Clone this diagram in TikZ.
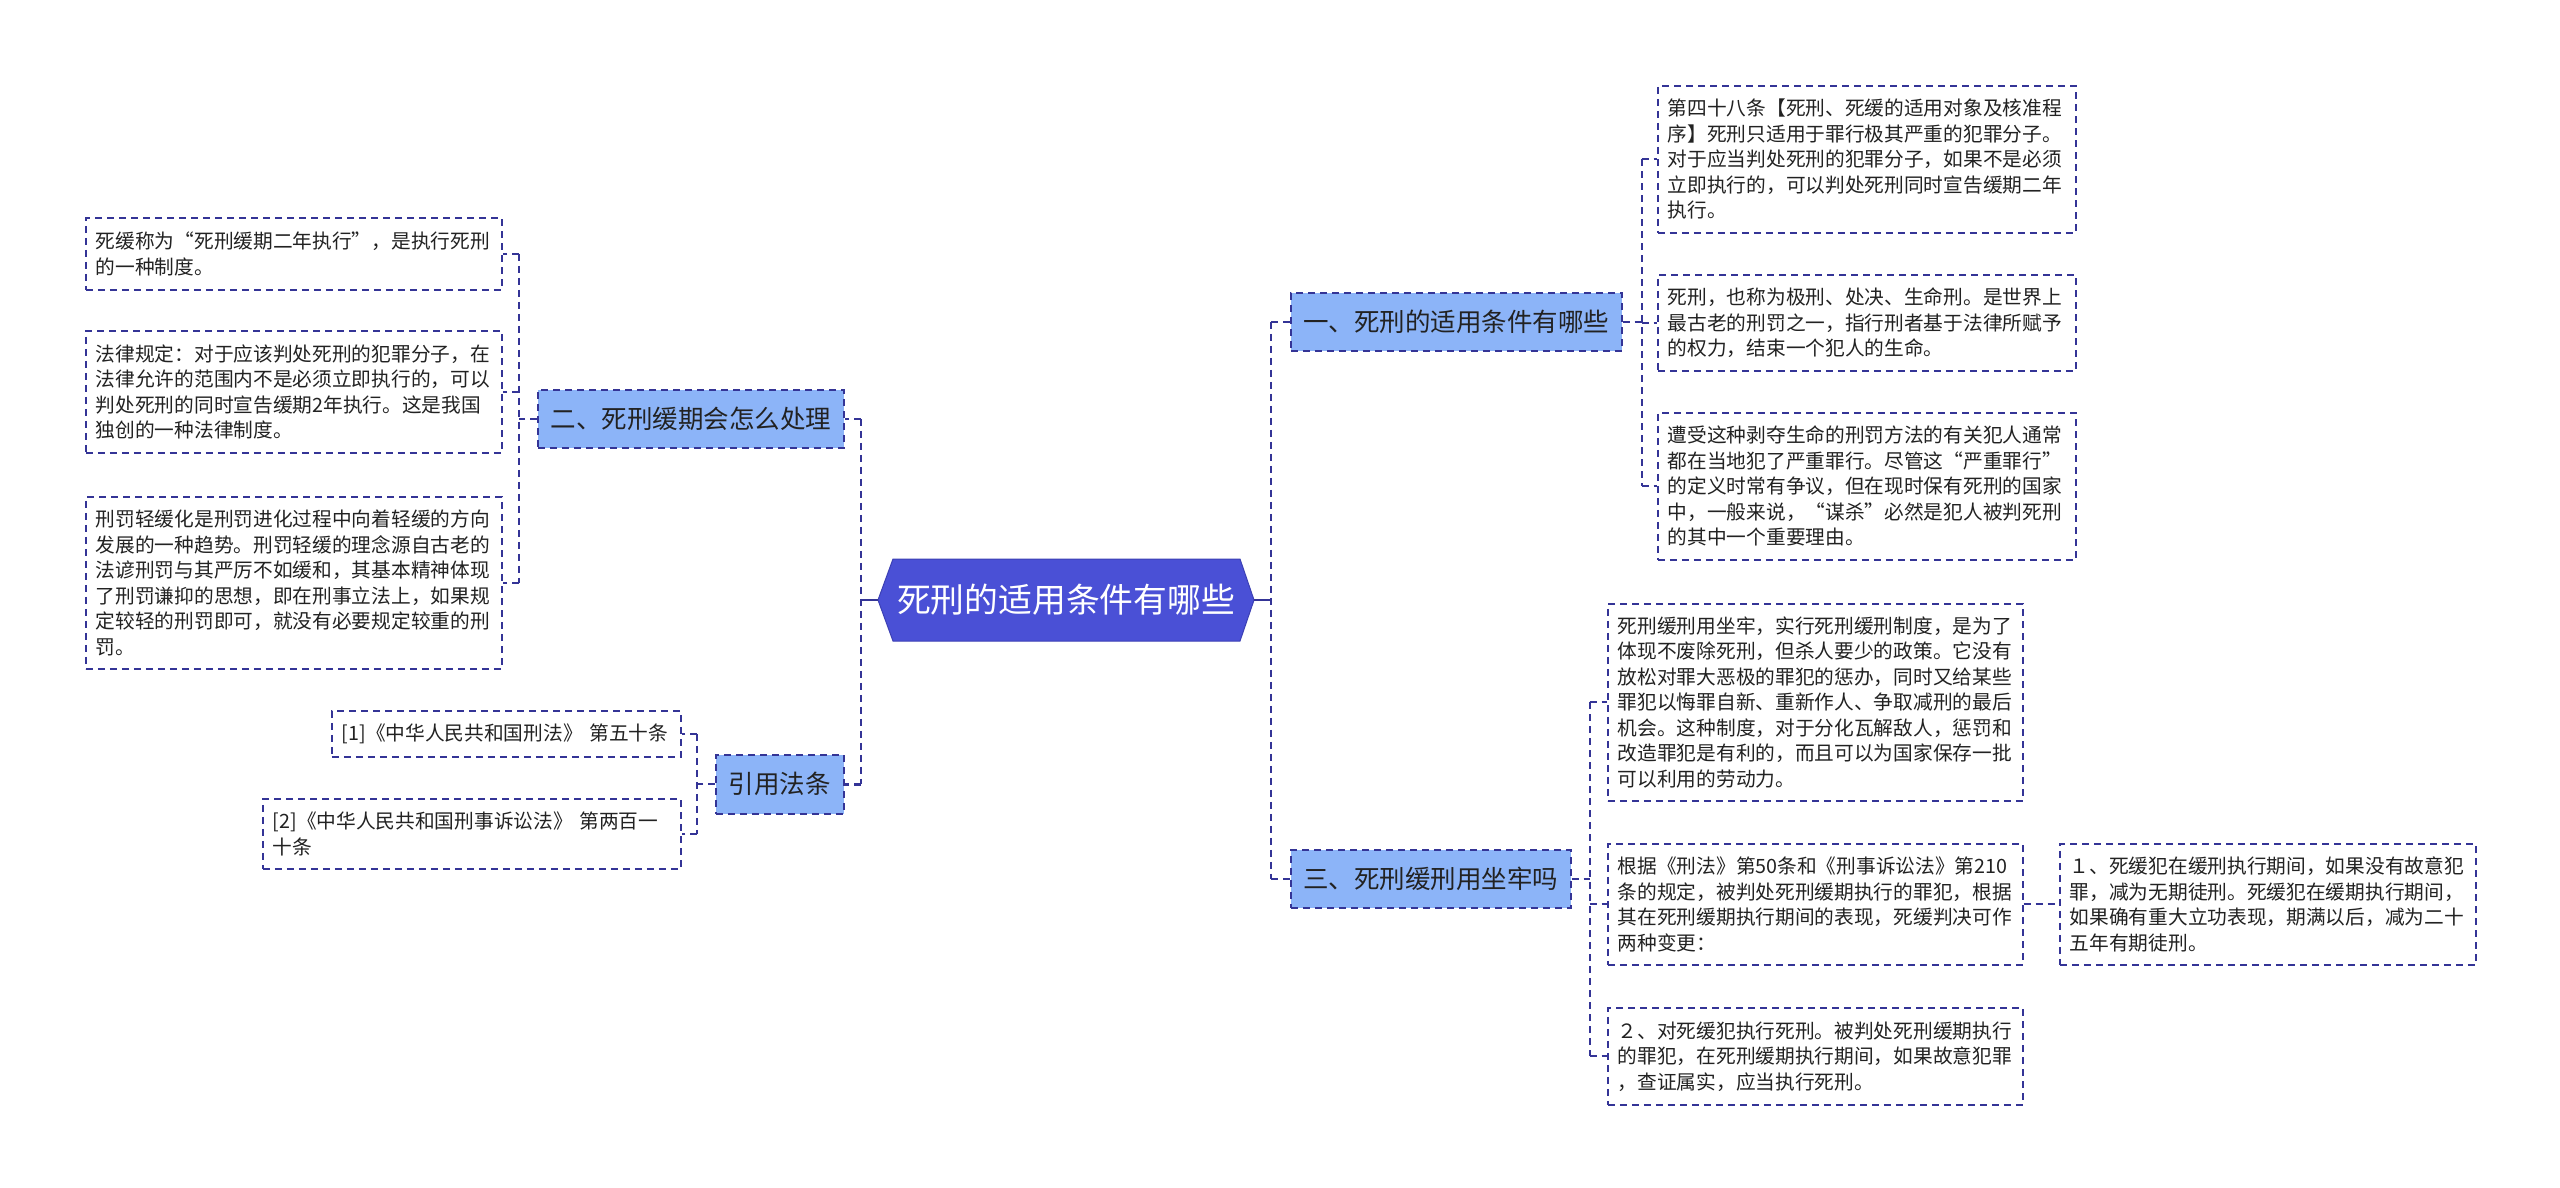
\documentclass[tikz,border=0pt]{standalone}
\usepackage{fontspec}
\setmainfont{Noto Sans CJK SC}
\definecolor{navy}{RGB}{52,52,150}
\definecolor{brfill}{RGB}{140,180,248}
\definecolor{cfill}{RGB}{74,80,214}
\definecolor{cborder}{RGB}{60,64,180}
\definecolor{txt}{RGB}{34,34,34}
\tikzset{
  leaf/.style={draw=navy, line width=1.6pt, dash pattern=on 7pt off 5pt, fill=white,
    anchor=north west, inner xsep=10pt, inner ysep=0pt, align=left, text=txt,
    font=\fontsize{19.7pt}{25.5pt}\selectfont},
  branch/.style={draw=navy, line width=1.6pt, dash pattern=on 7pt off 5pt, fill=brfill,
    anchor=north west, inner sep=0pt, align=center, text=txt,
    font=\fontsize{25.5pt}{30pt}\selectfont},
  conn/.style={draw=navy, line width=1.8pt, dash pattern=on 7pt off 5pt},
  mainconn/.style={draw=navy, line width=2.6pt, dash pattern=on 7pt off 5pt},
  solidconn/.style={draw=navy, line width=2.6pt},
}
\begin{document}
\begin{tikzpicture}[x=1pt, y=-1pt]
\useasboundingbox[fill=white] (0,0) rectangle (2560,1188);

% central node
\coordinate (cl) at (878,600);
\coordinate (cr) at (1254,600);
\filldraw[fill=cfill, draw=cborder, line width=1pt] (cl) -- (893,559) -- (1240,559) -- (cr) -- (1240,641) -- (893,641) -- cycle;
\node[text=white, font=\fontsize{33.8pt}{40pt}\selectfont, inner sep=0pt] (c) at (1066,600) {死刑的适用条件有哪些};

% branches
\node[branch, minimum width=331pt, minimum height=58pt] (b1) at (1290,292) {一、死刑的适用条件有哪些};
\node[branch, minimum width=306pt, minimum height=58pt] (b2) at (537,389) {二、死刑缓期会怎么处理};
\node[branch, minimum width=280pt, minimum height=58pt] (b3) at (1290,849) {三、死刑缓刑用坐牢吗};
\node[branch, minimum width=128pt, minimum height=59pt] (b4) at (715,754) {引用法条};

% left leaves (branch 2)
\node[leaf, text width=396pt, minimum height=72pt] (l1) at (85,217) {死缓称为“死刑缓期二年执行”，是执行死刑\\的一种制度。};
\node[leaf, text width=396pt, minimum height=122pt] (l2) at (85,330) {法律规定：对于应该判处死刑的犯罪分子，在\\法律允许的范围内不是必须立即执行的，可以\\判处死刑的同时宣告缓期2年执行。这是我国\\独创的一种法律制度。};
\node[leaf, text width=396pt, minimum height=172pt] (l3) at (85,496) {刑罚轻缓化是刑罚进化过程中向着轻缓的方向\\发展的一种趋势。刑罚轻缓的理念源自古老的\\法谚刑罚与其严厉不如缓和，其基本精神体现\\了刑罚谦抑的思想，即在刑事立法上，如果规\\定较轻的刑罚即可，就没有必要规定较重的刑\\罚。};

% references (branch 4)
\node[leaf, text width=329pt, minimum height=46pt] (r1) at (331,710) {[1]《中华人民共和国刑法》~第五十条};
\node[leaf, text width=398pt, minimum height=70pt] (r2) at (262,798) {[2]《中华人民共和国刑事诉讼法》~第两百一\\十条};

% right leaves (branch 1)
\node[leaf, text width=398pt, minimum height=147pt] (a1) at (1657,85) {第四十八条【死刑、死缓的适用对象及核准程\\序】死刑只适用于罪行极其严重的犯罪分子。\\对于应当判处死刑的犯罪分子，如果不是必须\\立即执行的，可以判处死刑同时宣告缓期二年\\执行。};
\node[leaf, text width=398pt, minimum height=96pt] (a2) at (1657,274) {死刑，也称为极刑、处决、生命刑。是世界上\\最古老的刑罚之一，指行刑者基于法律所赋予\\的权力，结束一个犯人的生命。};
\node[leaf, text width=398pt, minimum height=147pt] (a3) at (1657,412) {遭受这种剥夺生命的刑罚方法的有关犯人通常\\都在当地犯了严重罪行。尽管这“严重罪行”\\的定义时常有争议，但在现时保有死刑的国家\\中，一般来说，“谋杀”必然是犯人被判死刑\\的其中一个重要理由。};

% right leaves (branch 3)
\node[leaf, text width=395pt, minimum height=197pt] (s1) at (1607,603) {死刑缓刑用坐牢，实行死刑缓刑制度，是为了\\体现不废除死刑，但杀人要少的政策。它没有\\放松对罪大恶极的罪犯的惩办，同时又给某些\\罪犯以悔罪自新、重新作人、争取减刑的最后\\机会。这种制度，对于分化瓦解敌人，惩罚和\\改造罪犯是有利的，而且可以为国家保存一批\\可以利用的劳动力。};
\node[leaf, text width=395pt, minimum height=121pt] (s2) at (1607,843) {根据《刑法》第50条和《刑事诉讼法》第210\\条的规定，被判处死刑缓期执行的罪犯，根据\\其在死刑缓期执行期间的表现，死缓判决可作\\两种变更：};
\node[leaf, text width=396pt, minimum height=121pt] (s3) at (2059,843) {１、死缓犯在缓刑执行期间，如果没有故意犯\\罪，减为无期徒刑。死缓犯在缓期执行期间，\\如果确有重大立功表现，期满以后，减为二十\\五年有期徒刑。};
\node[leaf, text width=395pt, minimum height=97pt] (s4) at (1607,1007) {２、对死缓犯执行死刑。被判处死刑缓期执行\\的罪犯，在死刑缓期执行期间，如果故意犯罪\\，查证属实，应当执行死刑。};

% main connectors
\coordinate (lsp) at (861,600);
\coordinate (rsp) at (1271,600);
\draw[solidconn] (cl) -- (lsp);
\draw[solidconn] (cr) -- (rsp);
\draw[mainconn] (lsp |- b2.east) -- (lsp |- b4.east);
\draw[mainconn] (lsp |- b2.east) -- (b2.east);
\draw[mainconn] (lsp |- b4.east) -- (b4.east);
\draw[mainconn] (rsp |- b1.west) -- (rsp |- b3.west);
\draw[mainconn] (rsp |- b1.west) -- (b1.west);
\draw[mainconn] (rsp |- b3.west) -- (b3.west);

% sub connectors: branch 2
\draw[conn] (b2.west) -- ++(-18,0) coordinate (sp2);
\draw[conn] (sp2 |- l1.east) -- (sp2 |- l3.east);
\foreach \n in {l1,l2,l3} \draw[conn] (sp2 |- \n.east) -- (\n.east);
% branch 4
\draw[conn] (b4.west) -- ++(-18,0) coordinate (sp4);
\draw[conn] (sp4 |- r1.east) -- (sp4 |- r2.east);
\foreach \n in {r1,r2} \draw[conn] (sp4 |- \n.east) -- (\n.east);
% branch 1
\draw[conn] (b1.east) -- ++(19,0) coordinate (sp1);
\draw[conn] (sp1 |- a1.west) -- (sp1 |- a3.west);
\foreach \n in {a1,a2,a3} \draw[conn] (sp1 |- \n.west) -- (\n.west);
% branch 3
\draw[conn] (b3.east) -- ++(18,0) coordinate (sp3);
\draw[conn] (sp3 |- s1.west) -- (sp3 |- s4.west);
\foreach \n in {s1,s2,s4} \draw[conn] (sp3 |- \n.west) -- (\n.west);
\draw[conn] (s2.east) -- (s3.west);
\end{tikzpicture}
\end{document}
